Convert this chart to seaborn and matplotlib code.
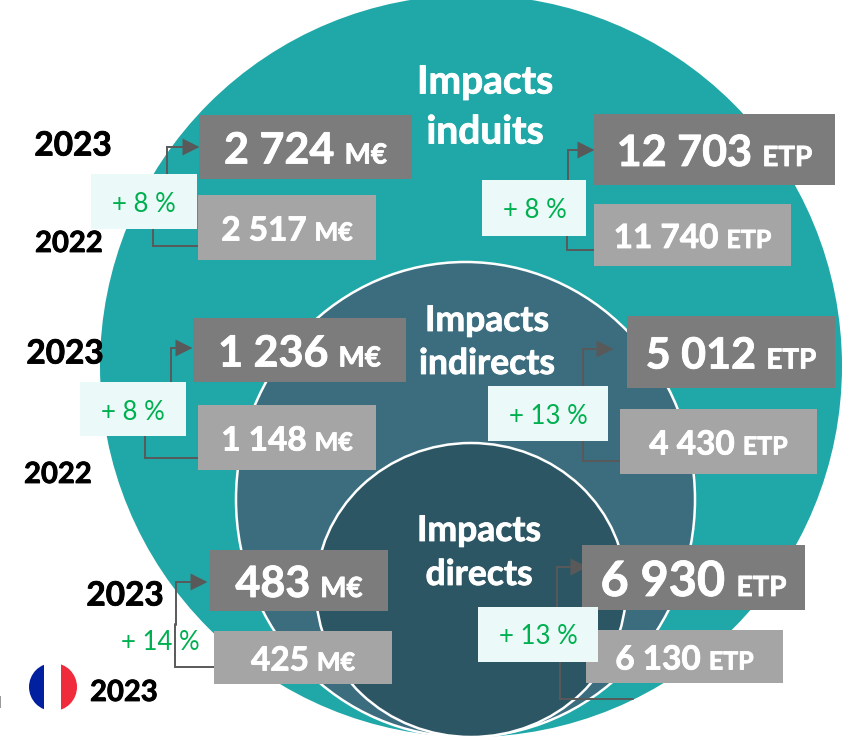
import matplotlib
matplotlib.use("Agg")
import matplotlib.pyplot as plt
import matplotlib.patheffects as pe
from matplotlib.patches import Ellipse, Rectangle
import seaborn as sns

sns.set_theme(style="white")
plt.rcParams["font.family"] = ["Lato", "DejaVu Sans"]

# --- values ---
levels = ["induits", "indirects", "directs"]
meur_2023 = ["2 724", "1 236", "483"]
meur_2022 = ["2 517", "1 148", "425"]
etp_2023 = ["12 703", "5 012", "6 930"]
etp_2022 = ["11 740", "4 430", "6 130"]
meur_growth = ["+ 8 %", "+ 8 %", "+ 14 %"]
etp_growth = ["+ 8 %", "+ 13 %", "+ 13 %"]

# --- colours ---
TEAL = "#20a8a8"
MID = "#3b6d7f"
DARK = "#2d5664"
BOX_DARK = "#7c7c7c"
BOX_LIGHT = "#a5a5a5"
PALE = "#ecf9f9"
GREEN = "#00b050"
LINE = "#595959"

# --- layout, in pixels of the 851x740 picture ---
top_boxes = [(199, 115, 213, 64), (193, 318, 213, 64), (210, 550, 178, 61),
             (594, 114, 241, 71), (627, 316, 208, 72), (582, 545, 223, 65)]
low_boxes = [(198, 195, 178, 65), (198, 405, 178, 65), (214, 631, 178, 53),
             (594, 204, 197, 62), (620, 409, 197, 65), (586, 630, 197, 53)]
top_sizes = [31, 31, 31, 31, 31, 35]
pale_boxes = [(91, 174, 106, 55), (80, 382, 106, 54), None,
              (482, 180, 104, 56), (488, 386, 120, 55), (478, 607, 120, 55)]
pct_pos = [(144, 205), (133, 412), (160, 642), (535, 210), (548, 416), (538, 637)]
up_lines = [([167, 167, 190], [174, 147, 147]), ([171, 171, 185], [382, 348, 348]),
            ([176, 176, 195], [625, 582, 582]), ([568, 568, 585], [180, 150, 150]),
            ([583, 583, 600], [386, 349, 349]), ([557, 557, 575], [607, 567, 567])]
low_lines = [([153, 153, 198], [229, 246, 246]), ([145, 145, 198], [436, 458, 458]),
             ([174.5, 174.5, 214], [624, 667, 667]), ([567, 567, 594], [236, 250, 250]),
             ([583, 583, 620], [441, 461, 461]), ([559.5, 559.5, 633], [662, 699, 699])]
arrow_x = [191, 184, 199, 586, 605, 579]
arrow_y = [147, 348, 582, 150, 349, 567]
year_labels = [("2023", 73, 146, 24), ("2022", 69, 244, 21), ("2023", 65, 354, 24),
               ("2022", 58, 475, 21), ("2023", 125, 596, 24), ("2023", 124, 693, 21)]
title_pos = [(485, 82, 132, 28), (487, 321, 364, 25.5), (479, 531, 575, 25.5)]

fig = plt.figure(figsize=(8.51, 7.40), dpi=100)
ax = fig.add_axes([0, 0, 1, 1])

# --- nested circles ---
ax.add_patch(Ellipse((471, 366), 742, 742, fc=TEAL, ec="none", zorder=1))
ax.add_patch(Ellipse((465.5, 499.5), 459, 475, fc=MID, ec="white", lw=1.8, zorder=2))
ax.add_patch(Ellipse((471, 590), 310, 294, fc=DARK, ec="white", lw=1.8, zorder=3))

# --- connectors ---
for xs, ys in up_lines + low_lines:
    ax.plot(xs, ys, color=LINE, lw=1.4, zorder=4, solid_joinstyle="miter")
sns.scatterplot(x=arrow_x, y=arrow_y, marker=">", s=150, color=LINE,
                edgecolor="none", ax=ax, zorder=5, legend=False)
ax.set_xlim(0, 851)
ax.set_ylim(740, 0)
ax.axis("off")

heavy = [pe.withStroke(linewidth=0.6, foreground="white")]


def value_box(box, number, unit, num_size, unit_size, color):
    x, y, w, h = box
    ax.add_patch(Rectangle((x, y), w, h, fc=color, ec="none", zorder=6))
    base = y + h / 2 + num_size / 2 + 1
    t1 = ax.text(0, base, number, fontsize=num_size, fontweight="bold", color="white",
                 ha="left", va="baseline", zorder=7, path_effects=heavy)
    t2 = ax.text(0, base, unit, fontsize=unit_size, fontweight="bold", color="white",
                 ha="left", va="baseline", zorder=7, path_effects=heavy)
    rend = fig.canvas.get_renderer()
    w1 = t1.get_window_extent(rend).width
    w2 = t2.get_window_extent(rend).width
    gap = 0.33 * num_size
    left = x + (w - w1 - gap - w2) / 2
    t1.set_x(left)
    t2.set_x(left + w1 + gap)


units = ["M€"] * 3 + ["ETP"] * 3
for i, (top, low) in enumerate(zip(meur_2023 + etp_2023, meur_2022 + etp_2022)):
    value_box(top_boxes[i], top, units[i], top_sizes[i], 20, BOX_DARK)
    value_box(low_boxes[i], low, units[i], 24, 18, BOX_LIGHT)

for pale, pos, txt in zip(pale_boxes, pct_pos, meur_growth + etp_growth):
    if pale is not None:
        ax.add_patch(Rectangle(pale[:2], pale[2], pale[3], fc=PALE, ec="none", zorder=6))
    ax.text(pos[0], pos[1], txt, fontsize=18.5, color=GREEN, ha="center", va="center", zorder=8)

# --- circle titles ---
for level, (x, y1, y2, size) in zip(levels, title_pos):
    for y, txt in [(y1, "Impacts"), (y2, level)]:
        ax.text(x, y, txt, fontsize=size, fontweight="bold", color="white",
                ha="center", va="center", zorder=5, path_effects=heavy)

# --- years ---
for txt, x, y, size in year_labels:
    ax.text(x, y, txt, fontsize=size, fontweight="bold", color="black", ha="center",
            va="center", zorder=8,
            path_effects=[pe.withStroke(linewidth=0.6, foreground="black")])

# --- flag ---
clip = Ellipse((53, 687), 48, 48, transform=ax.transData, fc="none", ec="none")
ax.add_patch(clip)
for x0, w, col in [(29, 15, "#00209f"), (44, 17, "white"), (61, 16, "#ef2b3c")]:
    stripe = Rectangle((x0, 663), w, 48, fc=col, ec="none", zorder=6)
    ax.add_patch(stripe)
    stripe.set_clip_path(clip)
ax.add_patch(Rectangle((0, 696), 1, 12, fc="#9a9a9a", ec="none", zorder=6))

fig.savefig("out.png", dpi=100)
